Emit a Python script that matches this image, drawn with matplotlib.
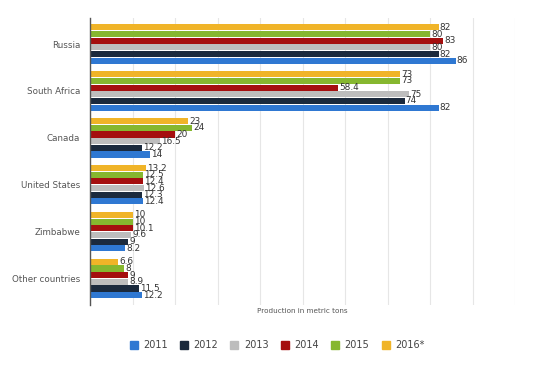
import matplotlib
matplotlib.use("Agg")
import matplotlib.pyplot as plt
import numpy as np
from matplotlib.lines import Line2D

countries = ["Russia", "South Africa", "Canada", "United States", "Zimbabwe", "Other countries"]
years = ["2011", "2012", "2013", "2014", "2015", "2016*"]
v2011 = [86, 82, 14, 12.4, 8.2, 12.2]
v2012 = [82, 74, 12.2, 12.3, 9, 11.5]
v2013 = [80, 75, 16.5, 12.6, 9.6, 8.9]
v2014 = [83, 58.4, 20, 12.4, 10.1, 9]
v2015 = [80, 73, 24, 12.5, 10, 8]
v2016 = [82, 73, 23, 13.2, 10, 6.6]
series = [v2011, v2012, v2013, v2014, v2015, v2016]
colors = ["#2f78d2", "#1b2a3d", "#bdbdbd", "#a50f0f", "#86b72f", "#f0b428"]

fig = plt.figure(figsize=(5.4, 3.68), dpi=100)
ax = fig.add_axes([90/540, 1-305/368, 425/540, 287/368])

y = np.arange(len(countries))
h = 0.142
for i, (vals, c) in enumerate(zip(series, colors)):
    off = (2.5 - i) * h
    ax.barh(y + off, vals, height=h*0.92, color=c, zorder=3)
    for yy, v in zip(y + off, vals):
        ax.text(v + 0.3, yy, f"{v:g}", va="center", ha="left", fontsize=6.4,
                color="#333333", zorder=4)

ax.set_xlim(0, 100)
ax.set_ylim(5.565, -0.555)
ax.set_yticks(y)
ax.set_yticklabels(countries, fontsize=6.3, color="#555555")
ax.tick_params(axis="y", length=0, pad=7)
ax.set_xticks(np.arange(0, 101, 10))
ax.tick_params(axis="x", length=0, labelbottom=False)
ax.grid(axis="x", color="#e6e6e6", linewidth=0.8, zorder=0)
for s in ["top", "right", "bottom"]:
    ax.spines[s].set_visible(False)
ax.spines["left"].set_color("#555555")
ax.spines["left"].set_linewidth(1.0)
ax.spines["left"].set_zorder(5)

fig.text(302/540, 1-311/368, "Production in metric tons", ha="center", va="center",
         fontsize=5.2, color="#555555")

handles = [Line2D([0], [0], marker="s", linestyle="none", markersize=6.3,
                  markerfacecolor=c, markeredgecolor=c) for c in colors]
fig.legend(handles, years, loc="center", bbox_to_anchor=(277/540, 1-345/368),
           ncol=6, frameon=False, fontsize=7.0, handletextpad=0.55,
           columnspacing=1.25, handlelength=0.85, labelcolor="#444444")

fig.savefig("out.png", dpi=100, facecolor="white")
